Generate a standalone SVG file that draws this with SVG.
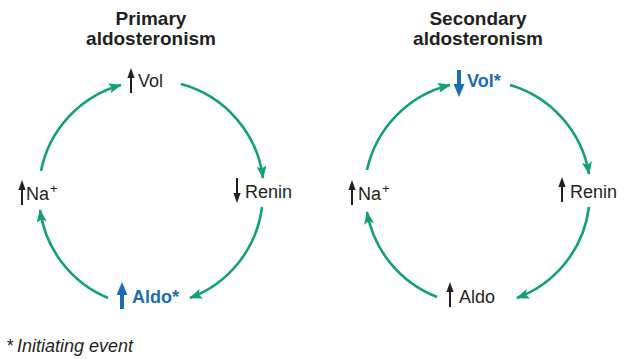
<svg xmlns="http://www.w3.org/2000/svg" width="627" height="359" viewBox="0 0 627 359">
<defs>
<style>
.bg{fill:#ffffff}
.title{font-family:"Liberation Sans",Arial,sans-serif;font-weight:bold;font-size:19px;fill:#231f20;text-anchor:middle}
.lbl{font-family:"Liberation Sans",Arial,sans-serif;font-size:18px;fill:#231f20}
.key{font-family:"Liberation Sans",Arial,sans-serif;font-size:18px;font-weight:bold;fill:#1c6db6}
.note{font-family:"Liberation Sans",Arial,sans-serif;font-size:18px;font-style:italic;fill:#231f20}
.sup{font-size:13px}
.conn{fill:none;stroke:#12a26e;stroke-width:2.6;marker-end:url(#ah)}
.thin{fill:#231f20}
.thick{fill:#1c6db6}
</style>
<marker id="ah" viewBox="0 0 13 10" refX="12" refY="5" markerWidth="13" markerHeight="10" markerUnits="userSpaceOnUse" orient="auto">
<path d="M0,0 L13,5 L0,10 L2.5,5 Z" fill="#12a26e"/>
</marker>
<g id="upThin"><path d="M0,0 L3.6,10 L-3.6,10 Z"/><rect x="-1" y="8" width="2" height="17"/></g>
<g id="upThick"><path d="M0,0 L5.5,13 L-5.5,13 Z"/><rect x="-2" y="11" width="4" height="16"/></g>
</defs>
<rect class="bg" x="0" y="0" width="627" height="359"/>

<g id="titles">
<text class="title" x="151" y="25">Primary</text>
<text class="title" x="151" y="45">aldosteronism</text>
<text class="title" x="478" y="25">Secondary</text>
<text class="title" x="478" y="45">aldosteronism</text>
</g>

<g id="connectors">
<path class="conn" d="M41,171 A112,112 0 0 1 121,85"/>
<path class="conn" d="M181,84 A112,112 0 0 1 263,178"/>
<path class="conn" d="M262,207 A112,112 0 0 1 190,298"/>
<path class="conn" d="M108,298 A112,112 0 0 1 40,210"/>
<path class="conn" d="M367,170 A112,112 0 0 1 450,85"/>
<path class="conn" d="M510,85 A112,112 0 0 1 589,174"/>
<path class="conn" d="M589,207 A112,112 0 0 1 517,298"/>
<path class="conn" d="M437,297 A112,112 0 0 1 367,212"/>
</g>

<g id="p-vol">
<use href="#upThin" class="thin" transform="translate(131,68)"/>
<text class="lbl" x="138" y="87">Vol</text>
</g>
<g id="p-renin">
<use href="#upThin" class="thin" transform="translate(237,203) rotate(180)"/>
<text class="lbl" x="245" y="198">Renin</text>
</g>
<g id="p-aldo">
<use href="#upThick" class="thick" transform="translate(122,282)"/>
<text class="key" x="132" y="303">Aldo*</text>
</g>
<g id="p-na">
<use href="#upThin" class="thin" transform="translate(22,180)"/>
<text class="lbl" x="26" y="200">Na<tspan class="sup" dx="1" dy="-7">+</tspan></text>
</g>

<g id="s-vol">
<use href="#upThick" class="thick" transform="translate(459,97) rotate(180)"/>
<text class="key" x="467" y="87">Vol*</text>
</g>
<g id="s-renin">
<use href="#upThin" class="thin" transform="translate(562,177)"/>
<text class="lbl" x="570" y="198">Renin</text>
</g>
<g id="s-aldo">
<use href="#upThin" class="thin" transform="translate(450,282)"/>
<text class="lbl" x="459" y="303">Aldo</text>
</g>
<g id="s-na">
<use href="#upThin" class="thin" transform="translate(352,180)"/>
<text class="lbl" x="358" y="200">Na<tspan class="sup" dx="1" dy="-7">+</tspan></text>
</g>

<g id="footnote">
<text class="note" x="6" y="352">*<tspan x="17">Initiating event</tspan></text>
</g>
</svg>
